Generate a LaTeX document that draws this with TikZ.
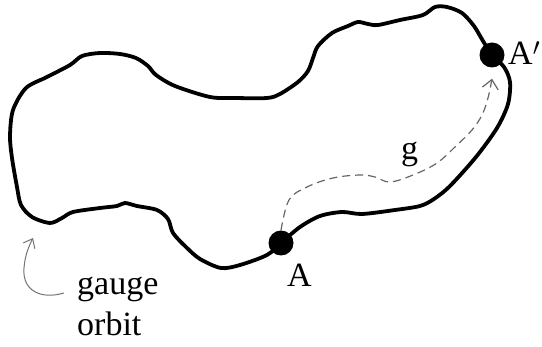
\documentclass[tikz,border=0pt]{standalone}
\usepackage{fontspec}
\setmainfont{Liberation Serif}
\usetikzlibrary{arrows.meta}
\begin{document}
\begin{tikzpicture}[x=1pt,y=-1pt,
  orbitline/.style={line width=3.8pt, line join=round},
  dot/.style={circle, fill=black, minimum size=25pt, inner sep=0pt},
  lbl/.style={font=\fontsize{34}{40}\selectfont, inner sep=0pt, anchor=base west},
  gpath/.style={line width=1.2pt, black!60, dash pattern=on 8pt off 5pt,
    -{Straight Barb[length=9pt,width=16pt,line width=1.2pt]}},
  garrow/.style={line width=1pt, black!55,
    -{Straight Barb[length=8pt,width=13pt,line width=1pt]}}]
\useasboundingbox (0,0) rectangle (542,347);
% the gauge orbit
\draw[orbitline] plot[smooth cycle, tension=0.5] coordinates {
  (26,88) (47,77) (70,65) (82,56) (100,53) (120,54) (136,58) (148,66) (156,75)
  (175,86) (210,97) (235,98) (267,98) (280,94) (298,82) (308,71) (313,58)
  (318,46) (332,33) (348,26) (358,22) (368,24) (378,25) (400,20) (423,15)
  (435,7) (447,7) (462,13) (474,26) (483,41) (492,55) (504,67) (510,82)
  (508,104) (497,128) (476,157) (450,186) (434,199) (420,206) (395,210)
  (362,214) (342,212) (320,216) (300,227) (281,243) (267,255) (240,265)
  (221,268) (200,259) (186,247) (173,233) (168,219) (157,210) (137,206)
  (125,203) (117,206) (100,208) (73,212) (62,218) (50,223) (32,217)
  (21,205) (17,187) (12,158) (10,136) (13,110)};
\node[dot] (A) at (281,243) {};
\node[dot] (Ap) at (492,55) {};
\node[lbl] (Alab) at (287,287) {A};
\node[lbl] (Aplab) at (508,65) {A$'$};
\node[lbl] (glab) at (401,160) {g};
\node[lbl] (gauge) at (77,295) {gauge};
\node[lbl] (orbit) at (77,336) {orbit};
% the dashed path g
\draw[gpath] plot[smooth, tension=0.6] coordinates {
  (A.north) (289,200) (307,187) (333,178) (360,175) (375,177) (390,182)
  (413,175) (437,163) (457,145) (472,130) (482,115) (488,98)
  ([yshift=-11pt]Ap.south)};
% the arrow to the orbit
\coordinate (gs) at (64,293);
\coordinate (ge) at (33,238);
\draw[garrow] (gs) .. controls (40,300) and (22,290) .. (24,268)
  .. controls (25,255) and (29,246) .. (ge);
\end{tikzpicture}
\end{document}
